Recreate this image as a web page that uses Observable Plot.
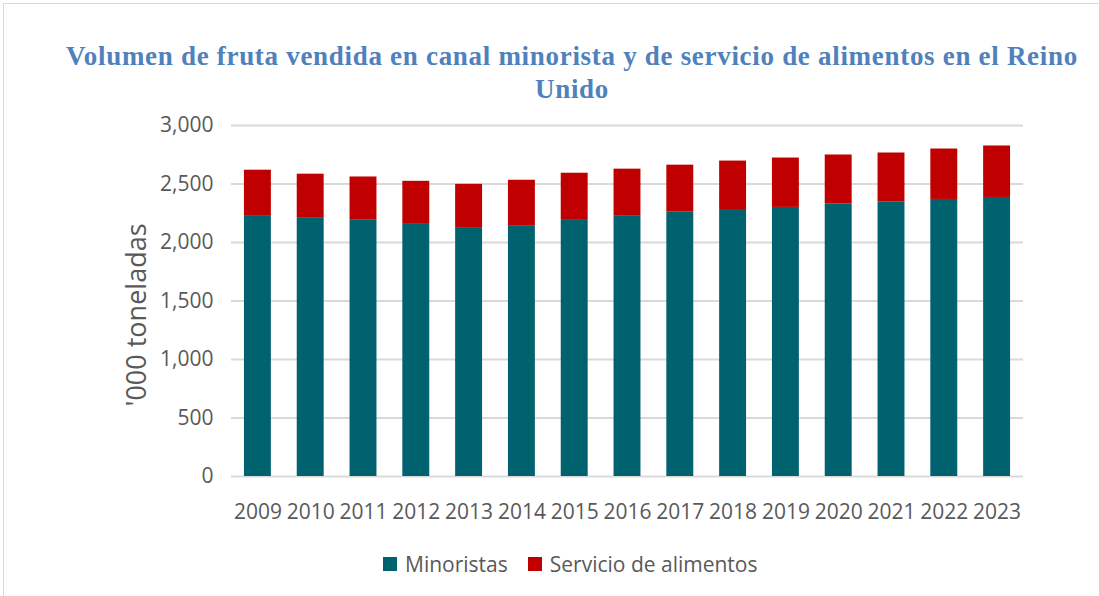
<!DOCTYPE html>
<html>
<head>
<meta charset="utf-8">
<script src="https://cdn.jsdelivr.net/npm/d3@7"></script>
<script src="https://cdn.jsdelivr.net/npm/@observablehq/plot@0.6"></script>
<style>
  html, body { margin: 0; padding: 0; background: #fff; }
  #chart { position: relative; width: 1099px; height: 596px; overflow: hidden; font-family: "Open Sans", sans-serif; }
  #frame { position: absolute; left: 3px; top: 3px; width: 1110px; height: 610px; border: 1.5px solid #d9d9d9; box-sizing: border-box; }
  #title { position: absolute; left: 0; top: 40px; width: 1144px; text-align: center; font-family: "Liberation Serif", serif; font-weight: bold; font-size: 27px; letter-spacing: 0.7px; line-height: 33px; color: #4F81BD; }
  #plot { position: absolute; left: 0; top: 110px; }
  #legend { position: absolute; top: 550px; left: 383px; display: flex; align-items: center; font-size: 21px; color: #595959; }
  .sw { width: 14px; height: 14px; display: inline-block; margin-right: 8px; }
</style>
</head>
<body>
<div id="chart">
  <div id="frame"></div>
  <div id="title"></div>
  <div id="plot"></div>
  <div id="legend"></div>
</div>
<script>
const years = ["2009","2010","2011","2012","2013","2014","2015","2016","2017","2018","2019","2020","2021","2022","2023"];
const minoristas = [2230, 2207, 2190, 2155, 2121, 2144, 2196, 2224, 2259, 2282, 2300, 2328, 2345, 2368, 2385];
const servicio = [388, 377, 370, 368, 376, 388, 396, 403, 402, 414, 422, 420, 420, 431, 440];
const seriesNames = ["Minoristas", "Servicio de alimentos"];
const seriesColors = ["#00626E", "#C00000"];
const yTicks = [0, 500, 1000, 1500, 2000, 2500, 3000];
const titleLines = ["Volumen de fruta vendida en canal minorista y de servicio de alimentos en el Reino", "Unido"];
const yLabel = "'000 toneladas";

document.getElementById("title").innerHTML = titleLines.join("<br>");

const data = [];
years.forEach((y, i) => {
  data.push({year: y, series: seriesNames[0], value: minoristas[i]});
  data.push({year: y, series: seriesNames[1], value: servicio[i]});
});

const chart = Plot.plot({
  width: 1099,
  height: 416,
  marginTop: 15,
  marginBottom: 50,
  marginLeft: 231,
  marginRight: 76,
  style: {fontFamily: "Open Sans, sans-serif", fontSize: "21px", color: "#595959", background: "transparent"},
  x: {domain: years, paddingInner: 0.49, paddingOuter: 0.245, round: false, label: null},
  y: {domain: [0, 3000], label: null},
  color: {domain: seriesNames, range: seriesColors},
  marks: [
    Plot.ruleY(yTicks, {stroke: "#d9d9d9", strokeWidth: 2}),
    Plot.barY(data, {x: "year", y: "value", fill: "series", order: seriesNames}),
    Plot.axisY({ticks: yTicks, tickSize: 0, tickPadding: 18, tickFormat: d3.format(","), label: null, fill: "#595959", fontSize: 21}),
    Plot.axisX({tickSize: 0, tickPadding: 28, label: null, fill: "#595959", fontSize: 21}),
    Plot.text([yLabel], {frameAnchor: "left", rotate: -90, textAnchor: "middle", dx: -94, dy: 14, fontSize: 27, fill: "#595959"})
  ]
});
document.getElementById("plot").appendChild(chart);

const legend = document.getElementById("legend");
seriesNames.forEach((name, i) => {
  const item = document.createElement("span");
  item.style.display = "inline-flex";
  item.style.alignItems = "center";
  item.style.marginRight = i === 0 ? "20px" : "0";
  item.innerHTML = `<span class="sw" style="background:${seriesColors[i]}"></span>${name}`;
  legend.appendChild(item);
});
</script>
</body>
</html>
